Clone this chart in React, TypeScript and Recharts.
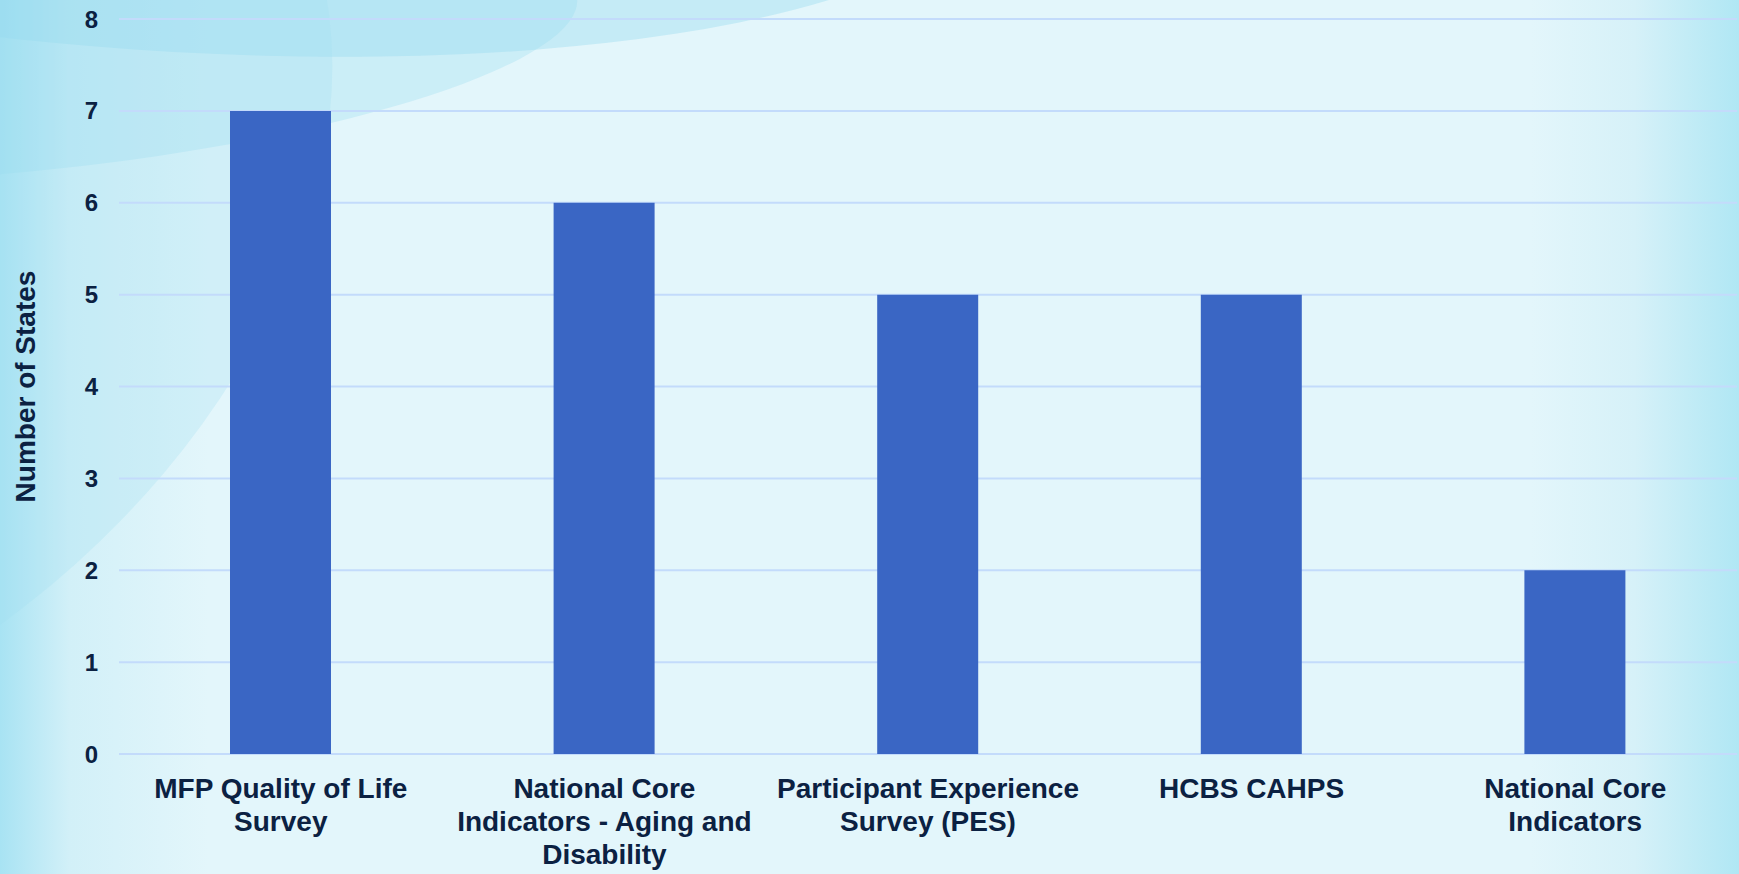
import { Bar, BarChart, CartesianGrid, Label, XAxis, YAxis } from 'recharts';

const surveyNames = [
  'MFP Quality of Life Survey',
  'National Core Indicators - Aging and Disability',
  'Participant Experience Survey (PES)',
  'HCBS CAHPS',
  'National Core Indicators',
];
const stateCounts = [7, 6, 5, 5, 2];
// wrapped the way the original slide breaks them
const surveyLabelLines = [
  ['MFP Quality of Life', 'Survey'],
  ['National Core', 'Indicators - Aging and', 'Disability'],
  ['Participant Experience', 'Survey (PES)'],
  ['HCBS CAHPS'],
  ['National Core', 'Indicators'],
];
const countTicks = [0, 1, 2, 3, 4, 5, 6, 7, 8];

const rows = surveyNames.map((name, i) => ({ name, states: stateCounts[i] }));

const INK = '#0b2142';
const BAR = '#3a66c4';
const GRID = '#c3dbfb';
const FONT = '"Liberation Sans", Arial, sans-serif';

function SurveyTick({ x, y, payload }: any) {
  const lines = surveyLabelLines[payload.index] ?? [payload.value];
  return (
    <text x={x} y={y} textAnchor="middle" fill={INK} fontSize={28} fontWeight="bold" fontFamily={FONT}>
      {lines.map((line, i) => (
        <tspan key={i} x={x} dy={i === 0 ? 38 : 33}>
          {line}
        </tspan>
      ))}
    </text>
  );
}

function CountAxisTitle({ viewBox }: any) {
  const cx = viewBox.x + 25;
  const cy = viewBox.y + viewBox.height / 2;
  return (
    <text
      x={cx}
      y={cy}
      transform={`rotate(-90, ${cx}, ${cy})`}
      textAnchor="middle"
      dominantBaseline="central"
      fill={INK}
      fontSize={28}
      fontWeight="bold"
      fontFamily={FONT}
    >
      Number of States
    </text>
  );
}

const swoosh = (style: React.CSSProperties): React.CSSProperties => ({
  position: 'absolute',
  borderRadius: '50%',
  pointerEvents: 'none',
  ...style,
});

export default function App() {
  return (
    <div
      style={{
        position: 'absolute',
        left: 0,
        top: 0,
        width: 1739,
        height: 874,
        overflow: 'hidden',
        background:
          'linear-gradient(to right, #a8e3f3 0%, #d2f0f8 4%, #e3f6fb 12%, #e3f6fb 88%, #d6f1f8 94%, #b0e7f4 100%)',
      }}
    >
      {/* the slide's decorative cyan swooshes, top left */}
      <div style={swoosh({ left: -700, top: -420, width: 1700, height: 470, background: 'rgba(140, 215, 238, 0.35)', transform: 'rotate(4deg)' })} />
      <div style={swoosh({ left: -500, top: -60, width: 1080, height: 230, background: 'rgba(150, 220, 240, 0.3)', transform: 'rotate(-6deg)' })} />
      <div style={swoosh({ left: -900, top: -200, width: 1300, height: 900, background: 'rgba(160, 222, 242, 0.28)', transform: 'rotate(-38deg)' })} />
      <div style={{ position: 'absolute', left: 0, top: 0 }}>
        <BarChart width={1739} height={874} data={rows} margin={{ top: 19, right: 2, bottom: 0, left: 0 }}>
          <CartesianGrid vertical={false} stroke={GRID} strokeWidth={2} />
          <XAxis
            dataKey="name"
            height={120}
            axisLine={false}
            tickLine={false}
            tickMargin={0}
            interval={0}
            tick={<SurveyTick />}
          />
          <YAxis
            width={119}
            domain={[0, 8]}
            ticks={countTicks}
            interval={0}
            axisLine={false}
            tickLine={false}
            tickMargin={15}
            tick={{ fill: INK, fontSize: 24, fontWeight: 'bold', fontFamily: FONT }}
          >
            <Label content={<CountAxisTitle />} />
          </YAxis>
          <Bar dataKey="states" fill={BAR} barSize={101} isAnimationActive={false} />
        </BarChart>
      </div>
    </div>
  );
}
